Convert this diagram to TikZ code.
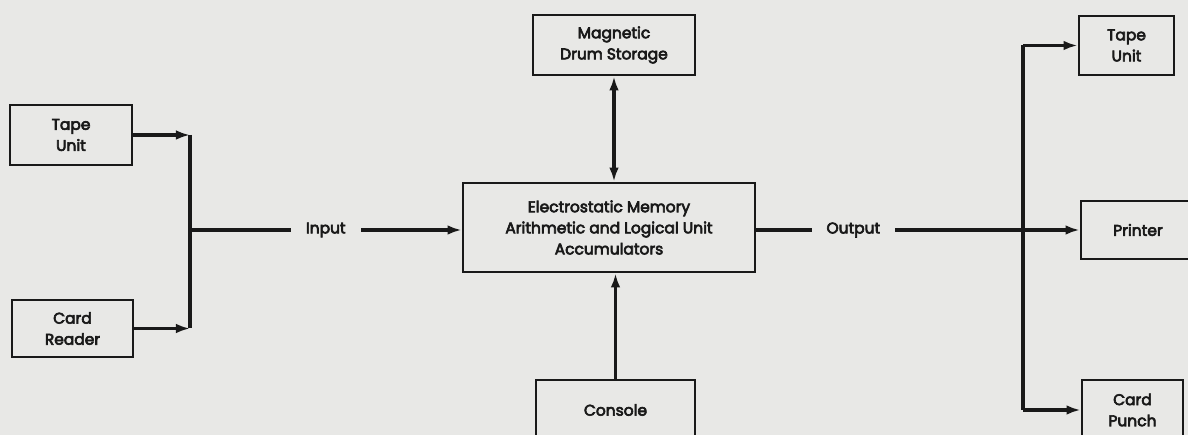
\documentclass[tikz,border=0pt]{standalone}
\usepackage{fontspec}
\setmainfont{Poppins}[FakeBold=4]
\usepackage{xcolor}
\usetikzlibrary{arrows.meta, positioning, calc}
\definecolor{paper}{RGB}{232,232,230}
\definecolor{ink}{RGB}{25,25,25}

\begin{document}
\begin{tikzpicture}[
  x=0.02cm, y=-0.02cm,
  every node/.style={font=\fontsize{8.8}{12}\selectfont, align=center, text=ink},
  box/.style={draw=ink, line width=1.6pt, fill=paper, inner sep=0pt},
  lbl/.style={fill=paper, inner xsep=0.3cm, inner ysep=2pt},
  arr/.style={-{Latex[length=8pt, width=5.5pt]}, line width=2pt, color=ink},
  bus/.style={line width=2.8pt, color=ink}
]
  \clip (0,0) rectangle (1188,435);
  \fill[paper] (0,0) rectangle (1188,435);

  \node[box, minimum width=2.44cm, minimum height=1.2cm]  (tapein)  at (71,135)    {Tape\\Unit};
  \node[box, minimum width=2.42cm, minimum height=1.14cm] (cardin)  at (72.5,328.5) {Card\\Reader};
  \node[box, minimum width=5.84cm, minimum height=1.78cm] (core)    at (609,227.5) {Electrostatic Memory\\Arithmetic and Logical Unit\\Accumulators};
  \node[box, minimum width=3.24cm, minimum height=1.2cm]  (drum)    at (614,45)    {Magnetic\\Drum Storage};
  \node[box, minimum width=3.18cm, minimum height=1.2cm]  (console) at (615.5,410) {Console};
  \node[box, minimum width=1.9cm,  minimum height=1.18cm] (tapeout) at (1126.5,45.5) {Tape\\Unit};
  \node[box, minimum width=2.28cm, minimum height=1.16cm] (printer) at (1138,230)  {Printer};
  \node[box, minimum width=2.02cm, minimum height=1.2cm]  (punch)   at (1132.5,410) {Card\\Punch};

  \coordinate (jin)  at (190,230);
  \coordinate (jout) at (1023,230);

  \draw[arr] (tapein.east) -- (tapein.east -| jin);
  \draw[arr] (cardin.east) -- (cardin.east -| jin);
  \draw[bus] (tapein.east -| jin) -- (cardin.east -| jin);
  \draw[arr] (jin) -- node[lbl] {Input} (jin -| core.west);

  \draw[arr] (jout -| core.east) -- node[lbl, pos=0.3] {Output} (printer.west);
  \draw[bus] (jout |- tapeout.west) -- (jout |- punch.west);
  \draw[arr] (jout |- tapeout.west) -- (tapeout.west);
  \draw[arr] (jout |- punch.west) -- (punch.west);

  \draw[arr, {Latex[length=8pt, width=5.5pt]}-{Latex[length=8pt, width=5.5pt]}] (drum.south) -- (drum.south |- core.north);
  \draw[arr] (console.north) -- (console.north |- core.south);
\end{tikzpicture}
\end{document}
